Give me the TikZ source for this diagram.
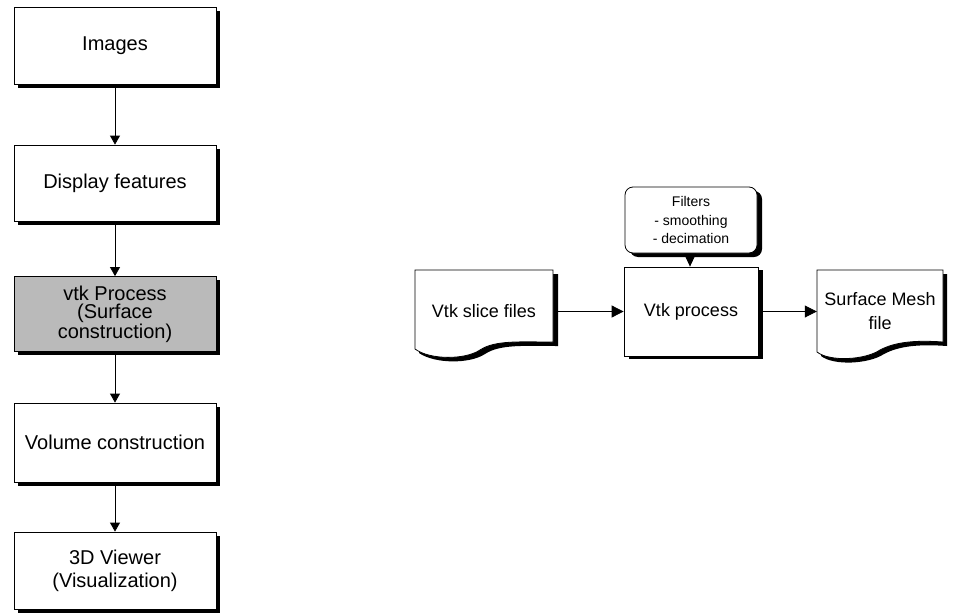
\documentclass[tikz,border=0pt]{standalone}
\usepackage{fontspec}
\setmainfont{Liberation Sans}
\usetikzlibrary{arrows.meta,shadows}
\begin{document}
\begin{tikzpicture}[x=1pt,y=-1pt,
  flowbox/.style={draw=black, line width=0.8pt, fill=white, minimum width=202pt,
    inner sep=0pt, align=center, font=\fontsize{20}{23}\selectfont,
    drop shadow={shadow xshift=3.5pt, shadow yshift=-3.5pt, fill=black, opacity=1}},
  shadedbox/.style={flowbox, fill=black!27, font=\fontsize{20}{18.5}\selectfont},
  arrL/.style={-{Triangle[length=9pt,width=10pt]}, line width=0.8pt},
  arrR/.style={-{Triangle[length=12pt,width=12pt]}, line width=0.8pt},
  rtext/.style={inner sep=0pt, align=center, font=\fontsize{18}{24}\selectfont},
  docline/.style={draw=black, line width=0.8pt, fill=white},
  docshadow/.style={fill=black}
]
\useasboundingbox (0,0) rectangle (968,613);

% ---------- left column ----------
\node[flowbox, minimum height=77pt] (img) at (115,45.5) {Images};
\node[flowbox, minimum height=76pt] (disp) at (115,183) {Display features};
\node[shadedbox, minimum height=75pt] (vtkp) at (115,314) {vtk Process\\(Surface\\construction)};
\node[flowbox, minimum height=79pt] (vol) at (115,442.5) {Volume construction};
\node[flowbox, minimum height=77pt] (view) at (115,570.5) {3D Viewer\\(Visualization)};

\draw[arrL] ([yshift=-3.5pt]img.south) -- (disp.north);
\draw[arrL] ([yshift=-3.5pt]disp.south) -- (vtkp.north);
\draw[arrL] ([yshift=-3.5pt]vtkp.south) -- (vol.north);
\draw[arrL] ([yshift=-3.5pt]vol.south) -- (view.north);

% ---------- right part ----------
% Vtk slice files (document shape)
\fill[docshadow] (419,274) -- (558,274) -- (558,346)
  .. controls (525,346) and (500,344) .. (485,354)
  .. controls (470,364) and (435,364) .. (419,353) -- cycle;
\path[docline] (415,270) -- (553,270) -- (553,342)
  .. controls (520,342) and (495,340) .. (480,350)
  .. controls (465,360) and (430,360) .. (415,349) -- cycle;
\node[rtext, minimum width=138pt, minimum height=80pt] (slice) at (484,311.5) {Vtk slice files};

% Vtk process box
\node[draw=black, line width=0.8pt, fill=white, minimum width=134pt, minimum height=89pt,
  inner sep=0pt, font=\fontsize{18}{24}\selectfont,
  drop shadow={shadow xshift=5pt, shadow yshift=-3pt, fill=black, opacity=1}]
  (proc) at (691,311.5) {Vtk process};

% Filters callout
\node[draw=black, line width=0.8pt, fill=white, rounded corners=8pt,
  minimum width=132pt, minimum height=66pt, inner sep=0pt, align=center,
  font=\fontsize{14}{18.5}\selectfont,
  drop shadow={shadow xshift=5pt, shadow yshift=-4pt, fill=black, opacity=1}]
  (filt) at (691,220) {Filters\\- smoothing\\- decimation};
\draw[-{Triangle[length=13pt,width=12pt]}, line width=0.8pt] ([xshift=-1pt,yshift=-3pt]filt.south) -- ([xshift=-1pt]proc.north);

% Surface Mesh file (document shape)
\fill[docshadow] (821,274) -- (947,274) -- (947,346)
  .. controls (919,344) and (899,346) .. (884,354)
  .. controls (869,364) and (834,366) .. (821,356) -- cycle;
\path[docline] (817,270) -- (943,270) -- (943,342)
  .. controls (915,340) and (895,342) .. (880,350)
  .. controls (865,360) and (830,362) .. (817,352) -- cycle;
\node[rtext, minimum width=126pt, minimum height=82pt] (surf) at (880,311.5) {Surface Mesh\\file};

\draw[arrR] ([xshift=5pt]slice.east) -- (proc.west);
\draw[arrR] ([xshift=5pt]proc.east) -- (surf.west);
\end{tikzpicture}
\end{document}
